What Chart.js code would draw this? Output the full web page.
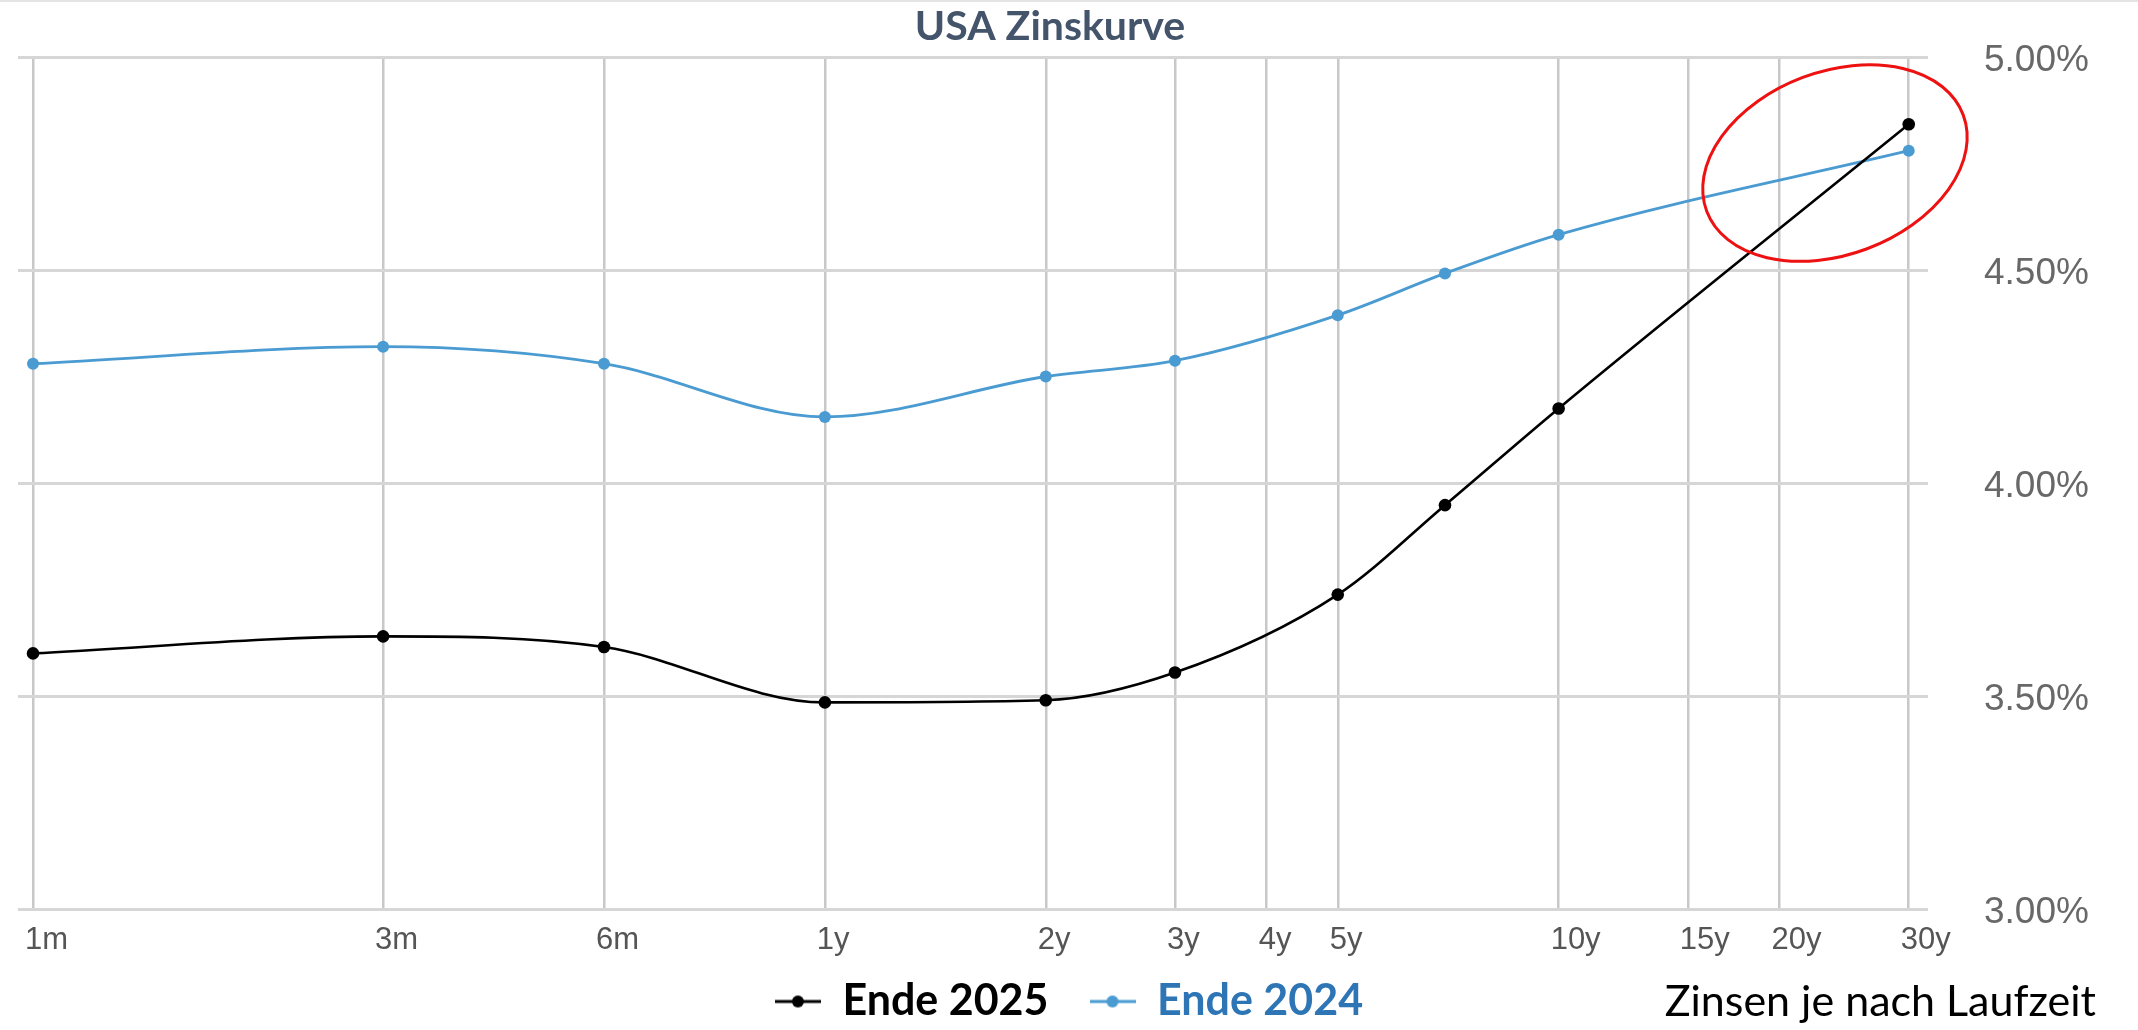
<!DOCTYPE html>
<html><head><meta charset="utf-8">
<script src="https://cdn.jsdelivr.net/npm/chart.js@4.4.1/dist/chart.umd.min.js"></script>
<style>
html,body{margin:0;padding:0;background:#fff;overflow:hidden}
canvas{display:block}
#topline{position:absolute;left:0;top:0;width:2138px;height:2px;background:#e4e4e4}
</style></head>
<body>
<canvas id="c" width="2138" height="1030"></canvas>
<div id="topline"></div>
<script>
// ---- data ----
const maturities = [1/12, 0.25, 0.5, 1, 2, 3, 5, 7, 10, 30];           // years
const ende2025   = [3.60, 3.64, 3.615, 3.485, 3.49, 3.555, 3.738, 3.948, 4.175, 4.842];
const ende2024   = [4.28, 4.32, 4.28, 4.155, 4.25, 4.287, 4.394, 4.492, 4.583, 4.78];
const seriesNames = ['Ende 2025', 'Ende 2024'];
const xTickValues = [1/12, 0.25, 0.5, 1, 2, 3, 4, 5, 10, 15, 20, 30];
const xTickLabels = ['1m', '3m', '6m', '1y', '2y', '3y', '4y', '5y', '10y', '15y', '20y', '30y'];
const yTickValues = [3.0, 3.5, 4.0, 4.5, 5.0];
const xRange = [0.0795, 31.87];
const yRange = [3, 5];
const highlightAt = {x: 23.8, y: 4.751};
const titleText = 'USA Zinskurve';
const noteText = 'Zinsen je nach Laufzeit';

// ---- styles ----
const lineColors = ['#000000', '#4a9bd1'];
const legendTextColors = ['#000000', '#2e75b6'];

function legendMarker(color) {
  const c = document.createElement('canvas');
  c.width = 46; c.height = 14;
  const g = c.getContext('2d');
  g.strokeStyle = color; g.lineWidth = 3;
  g.beginPath(); g.moveTo(0, 7); g.lineTo(46, 7); g.stroke();
  g.fillStyle = color;
  g.beginPath(); g.arc(23, 7, 6, 0, Math.PI * 2); g.fill();
  return c;
}
const markers = lineColors.map(legendMarker);

const toPoints = vals => maturities.map((m, i) => ({x: m, y: vals[i]}));

const decorPlugin = {
  id: 'decor',
  afterDatasetsDraw(chart) {
    const {ctx, scales: {x, y}} = chart;
    const cx = x.getPixelForValue(highlightAt.x);
    const cy = y.getPixelForValue(highlightAt.y);
    ctx.save();
    ctx.strokeStyle = '#ee1111';
    ctx.lineWidth = 3;
    ctx.beginPath();
    ctx.ellipse(cx, cy, 137, 91.5, -20.6 * Math.PI / 180, 0, Math.PI * 2);
    ctx.stroke();
    ctx.restore();
  },
  afterDraw(chart) {
    const {ctx} = chart;
    ctx.save();
    ctx.font = 'bold 41px Lato';
    ctx.fillStyle = '#44546a';
    ctx.textAlign = 'center';
    ctx.textBaseline = 'alphabetic';
    ctx.fillText(titleText, 1050, 40);
    ctx.font = '43px Lato';
    ctx.fillStyle = '#000';
    ctx.textAlign = 'right';
    ctx.textBaseline = 'middle';
    ctx.fillText(noteText, 2096, 1002);
    ctx.restore();
  }
};

Chart.defaults.font.family = "'Liberation Sans', Arial, sans-serif";

new Chart(document.getElementById('c'), {
  type: 'line',
  data: {
    datasets: [
      {label: seriesNames[0], data: toPoints(ende2025), borderColor: lineColors[0], backgroundColor: lineColors[0],
       borderWidth: 2.6, pointRadius: 6.3, pointBorderWidth: 0, cubicInterpolationMode: 'monotone'},
      {label: seriesNames[1], data: toPoints(ende2024), borderColor: lineColors[1], backgroundColor: lineColors[1],
       borderWidth: 2.8, pointRadius: 6, pointBorderWidth: 0, cubicInterpolationMode: 'monotone'}
    ]
  },
  options: {
    responsive: false,
    animation: false,
    devicePixelRatio: 1,
    layout: {autoPadding: false, padding: {left: 0, right: 0, top: 57, bottom: -3}},
    plugins: {
      title: {display: false},
      legend: {
        position: 'bottom',
        labels: {
          usePointStyle: true, pointStyleWidth: 46, padding: 41,
          font: {family: 'Lato', size: 43, weight: 'bold'},
          generateLabels: chart => chart.data.datasets.map((ds, i) => ({
            text: ds.label, fillStyle: ds.borderColor, strokeStyle: ds.borderColor, lineWidth: 0,
            pointStyle: markers[i], fontColor: legendTextColors[i],
            hidden: !chart.isDatasetVisible(i), datasetIndex: i
          }))
        }
      },
      tooltip: {enabled: false}
    },
    scales: {
      x: {
        type: 'logarithmic', min: xRange[0], max: xRange[1],
        afterBuildTicks: s => { s.ticks = xTickValues.map(v => ({value: v})); },
        afterFit: s => { s.height = 30; s.paddingLeft = 0; s.paddingRight = 0; },
        grid: {color: '#c8c8c8', lineWidth: 2.5, drawTicks: false},
        border: {display: false},
        ticks: {
          autoSkip: false, maxRotation: 0, align: 'start', labelOffset: -8, padding: -50, mirror: true,
          color: '#555555', font: {size: 31},
          callback: (v, i) => xTickLabels[i]
        }
      },
      y: {
        position: 'right', min: yRange[0], max: yRange[1],
        afterBuildTicks: s => { s.ticks = yTickValues.map(v => ({value: v})); },
        afterFit: s => { s.width = 210; s.paddingTop = 0; s.paddingBottom = 0; },
        grid: {color: '#d6d6d6', lineWidth: 3, drawTicks: false},
        border: {display: false},
        ticks: {
          padding: 56, labelOffset: 4, color: '#686868', font: {size: 37},
          callback: v => v.toFixed(2) + '%'
        }
      },
      yLeftGap: {
        type: 'linear', position: 'left', min: yRange[0], max: yRange[1],
        afterFit: s => { s.width = 18; s.paddingTop = 0; s.paddingBottom = 0; },
        grid: {display: false, drawTicks: false},
        border: {display: false},
        ticks: {display: false}
      }
    }
  },
  plugins: [decorPlugin]
});
</script>
</body></html>
